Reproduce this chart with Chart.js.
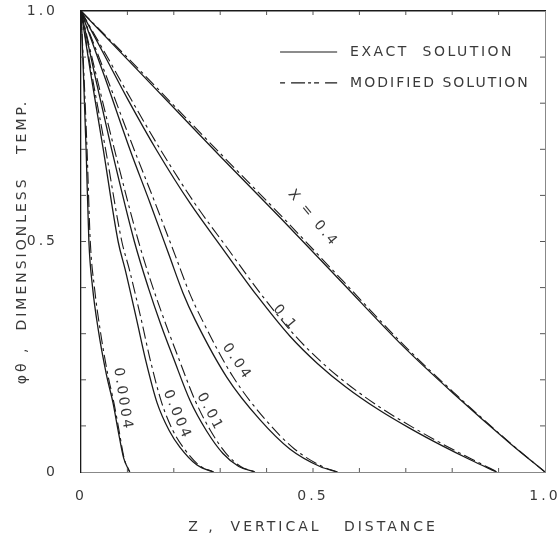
<!DOCTYPE html>
<html>
<head>
<meta charset="utf-8">
<script src="https://cdn.jsdelivr.net/npm/chart.js@4.4.0/dist/chart.umd.min.js"></script>
<style>
  html, body { margin: 0; padding: 0; background: #fff; }
</style>
</head>
<body>
<canvas id="chartCanvas" width="559" height="537"></canvas>
<script>
// valeurs (Z, phi)
const tickLabels = { 0: '0', 0.5: '0.5', 1: '1.0' };
const minorTicks = [0.1, 0.2, 0.3, 0.4, 0.5, 0.6, 0.7, 0.8, 0.9];

// X = 0.4
const phi_0_4 = [1, 0.895, 0.79, 0.685, 0.551, 0.416, 0.272, 0.171, 0.062, 0];
const zExact_0_4 = [0, 0.1, 0.2, 0.3, 0.43, 0.558, 0.695, 0.802, 0.925, 1.0];
const zMod_0_4 = [0, 0.104, 0.205, 0.306, 0.436, 0.563, 0.699, 0.805, 0.926, 1.0];

// X = 0.1
const phi_0_1 = [1, 0.905, 0.81, 0.698, 0.583, 0.482, 0.383, 0.295, 0.235, 0.185, 0.136, 0.094, 0.056, 0.026, 0];
const zExact_0_1 = [0, 0.05, 0.1, 0.163, 0.235, 0.307, 0.379, 0.45, 0.51, 0.57, 0.64, 0.71, 0.78, 0.84, 0.896];
const zMod_0_1 = [0, 0.054, 0.107, 0.172, 0.245, 0.318, 0.39, 0.462, 0.522, 0.582, 0.651, 0.72, 0.788, 0.846, 0.898];

// X = 0.04
const phi_0_04 = [1, 0.86, 0.698, 0.583, 0.47, 0.388, 0.33, 0.206, 0.113, 0.05, 0.012, 0];
const zExact_0_04 = [0, 0.05, 0.106, 0.149, 0.19, 0.22, 0.246, 0.314, 0.386, 0.45, 0.515, 0.552];
const zMod_0_04 = [0, 0.054, 0.115, 0.16, 0.203, 0.234, 0.261, 0.328, 0.398, 0.46, 0.52, 0.553];

// X = 0.01
const phi_0_01 = [1, 0.86, 0.70, 0.50, 0.40, 0.32, 0.245, 0.155, 0.09, 0.04, 0.012, 0];
const zExact_0_01 = [0, 0.03, 0.066, 0.115, 0.145, 0.172, 0.2, 0.235, 0.27, 0.306, 0.34, 0.375];
const zMod_0_01 = [0, 0.033, 0.072, 0.124, 0.155, 0.183, 0.211, 0.246, 0.279, 0.313, 0.344, 0.376];

// X = 0.004
const phi_0_004 = [1, 0.87, 0.70, 0.50, 0.44, 0.33, 0.24, 0.15, 0.09, 0.054, 0.015, 0];
const zExact_0_004 = [0, 0.02, 0.048, 0.08, 0.095, 0.12, 0.14, 0.164, 0.19, 0.213, 0.25, 0.285];
const zMod_0_004 = [0, 0.022, 0.053, 0.088, 0.104, 0.13, 0.15, 0.174, 0.198, 0.22, 0.254, 0.286];

// X = 0.0004
const phi_0_0004 = [1, 0.87, 0.70, 0.50, 0.40, 0.31, 0.21, 0.15, 0.09, 0.03, 0];
const zExact_0_0004 = [0, 0.005, 0.011, 0.017, 0.025, 0.037, 0.055, 0.069, 0.08, 0.092, 0.105];
const zMod_0_0004 = [0, 0.006, 0.013, 0.02, 0.029, 0.041, 0.058, 0.071, 0.082, 0.093, 0.105];

// étiquettes des courbes
const curveLabels = ['X = 0.4', '0.1', '0.04', '0.01', '0.004', '0.0004'];
const labelZ = [0.50, 0.44, 0.336, 0.278, 0.207, 0.09];
const labelPhi = [0.55, 0.334, 0.239, 0.13, 0.124, 0.158];
const labelAngle = [50, 50, 56, 62, 67, 81];

// légende
const legendLabels = ['EXACT  SOLUTION', 'MODIFIED SOLUTION'];

const INK = '#1a1a1a';
const TEXT = '#3a3a3a';
const FONT = 'DejaVu Sans';
const DASHDOT = [12, 4, 3, 4];

function pts(zs, phis) {
    return zs.map((z, i) => ({ x: z, y: phis[i] }));
}

function curve(zs, phis, modified) {
    return {
        data: pts(zs, phis),
        showLine: true,
        borderColor: INK,
        borderWidth: modified ? 1.1 : 1.3,
        borderDash: modified ? DASHDOT : [],
        pointRadius: 0,
        cubicInterpolationMode: 'monotone',
        fill: false
    };
}

const datasets = [
    curve(zExact_0_4, phi_0_4, false), curve(zMod_0_4, phi_0_4, true),
    curve(zExact_0_1, phi_0_1, false), curve(zMod_0_1, phi_0_1, true),
    curve(zExact_0_04, phi_0_04, false), curve(zMod_0_04, phi_0_04, true),
    curve(zExact_0_01, phi_0_01, false), curve(zMod_0_01, phi_0_01, true),
    curve(zExact_0_004, phi_0_004, false), curve(zMod_0_004, phi_0_004, true),
    curve(zExact_0_0004, phi_0_0004, false), curve(zMod_0_0004, phi_0_0004, true)
];

// dessins en plus : petits traits, légende, étiquettes
const decorPlugin = {
    id: 'decor',
    beforeUpdate(chart) { chart.ctx.letterSpacing = '3px'; },
    beforeDraw(chart) { chart.ctx.letterSpacing = '3px'; },
    afterDraw(chart) {
        const ctx = chart.ctx;
        const xs = chart.scales.x, ys = chart.scales.y;
        const a = chart.chartArea;
        ctx.save();

        // traits de graduation vers l'intérieur
        ctx.strokeStyle = '#555';
        ctx.lineWidth = 1;
        minorTicks.forEach(v => {
            const px = xs.getPixelForValue(v), py = ys.getPixelForValue(v);
            ctx.beginPath();
            ctx.moveTo(px, a.top); ctx.lineTo(px, a.top + 4);
            ctx.moveTo(px, a.bottom); ctx.lineTo(px, a.bottom - 4);
            ctx.moveTo(a.left, py); ctx.lineTo(a.left + 5, py);
            ctx.moveTo(a.right, py); ctx.lineTo(a.right - 5, py);
            ctx.stroke();
        });

        // légende
        ctx.font = '14px "' + FONT + '"';
        ctx.fillStyle = TEXT;
        ctx.textBaseline = 'middle';
        ctx.textAlign = 'left';
        const lx0 = xs.getPixelForValue(0.429), lx1 = xs.getPixelForValue(0.552);
        const tx = xs.getPixelForValue(0.58);
        [0.911, 0.844].forEach((p, i) => {
            const py = ys.getPixelForValue(p);
            ctx.strokeStyle = INK;
            ctx.lineWidth = 1.1;
            ctx.setLineDash(i === 0 ? [] : [5, 6, 14, 3, 3, 3]);
            ctx.beginPath();
            ctx.moveTo(lx0, py); ctx.lineTo(lx1, py);
            ctx.stroke();
            ctx.letterSpacing = i === 0 ? '2.5px' : '2px';
            ctx.fillText(legendLabels[i], tx, py);
        });
        ctx.setLineDash([]);

        // étiquettes des courbes
        ctx.font = '14px "' + FONT + '"';
        ctx.letterSpacing = '2.5px';
        ctx.textAlign = 'center';
        curveLabels.forEach((t, i) => {
            ctx.save();
            ctx.translate(xs.getPixelForValue(labelZ[i]), ys.getPixelForValue(labelPhi[i]));
            ctx.rotate(labelAngle[i] * Math.PI / 180);
            ctx.fillText(t, 0, 0);
            ctx.restore();
        });

        ctx.restore();
    }
};

const tickFont = { family: FONT, size: 14 };
const titleFont = { family: FONT, size: 14 };

var chart = new Chart(document.getElementById('chartCanvas'), {
    type: 'scatter',
    data: { datasets: datasets },
    options: {
        responsive: false,
        animation: false,
        layout: { padding: 0 },
        plugins: {
            legend: { display: false },
            tooltip: { enabled: false }
        },
        scales: {
            x: {
                type: 'linear', position: 'bottom', min: 0, max: 1,
                afterFit: s => { s.height = 65; s.paddingLeft = 0; s.paddingRight = 0; },
                border: { color: '#888', dash: [2, 3], width: 1 },
                grid: { display: false },
                ticks: {
                    stepSize: 0.5, color: TEXT, font: tickFont, padding: 8,
                    maxRotation: 0, callback: v => tickLabels[v]
                },
                title: {
                    display: true, text: 'Z ,  VERTICAL   DISTANCE', color: TEXT,
                    font: titleFont, padding: { top: 0, bottom: 1 }
                }
            },
            y: {
                type: 'linear', position: 'left', min: 0, max: 1,
                afterFit: s => { s.width = 81; s.paddingTop = 0; s.paddingBottom = 0; },
                border: { color: INK, width: 1.3 },
                grid: { display: false },
                ticks: {
                    stepSize: 0.5, color: TEXT, font: tickFont, padding: 15,
                    callback: v => tickLabels[v]
                },
                title: {
                    display: true, text: 'φθ ,  DIMENSIONLESS   TEMP.', color: TEXT,
                    font: titleFont, padding: { top: 14, bottom: 0 }
                }
            },
            x2: {
                type: 'linear', position: 'top', min: 0, max: 1,
                afterFit: s => { s.height = 11; },
                border: { color: INK, width: 1.5 },
                grid: { display: false },
                ticks: { display: false }
            },
            y2: {
                type: 'linear', position: 'right', min: 0, max: 1,
                afterFit: s => { s.width = 14; },
                border: { color: '#888', dash: [2, 2], width: 1 },
                grid: { display: false },
                ticks: { display: false }
            }
        }
    },
    plugins: [decorPlugin]
});
</script>
</body>
</html>
